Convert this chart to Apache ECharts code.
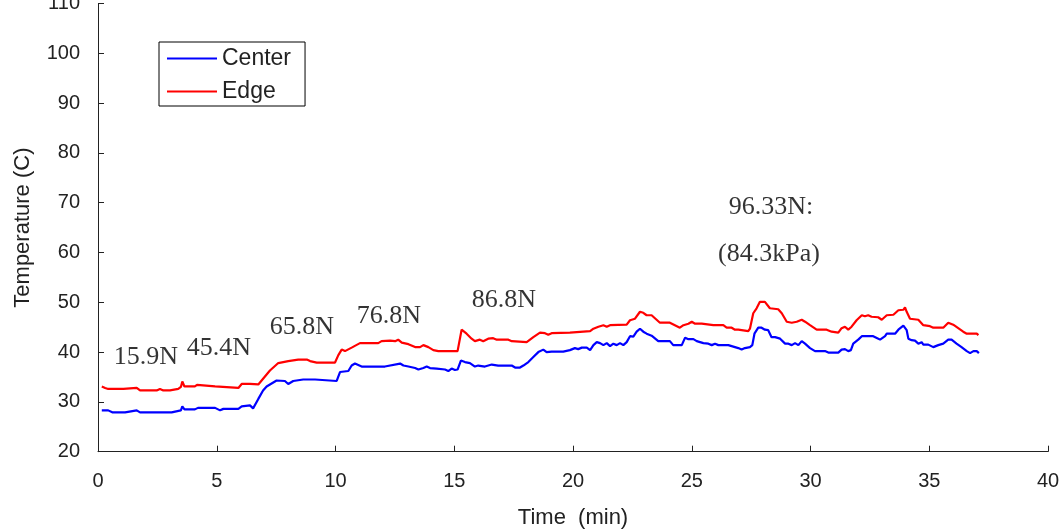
<!DOCTYPE html>
<html>
<head>
<meta charset="utf-8">
<script src="https://cdn.jsdelivr.net/npm/echarts@6/dist/echarts.min.js"></script>
<style>
  html, body { margin: 0; padding: 0; background: #fff; }
  #chart { width: 1062px; height: 531px; }
</style>
</head>
<body>
<div id="chart"></div>
<script>
// Temperature readings, [time (min), temperature (C)]
const centerTemp = [
  [0.16,28.3],[0.43,28.3],[0.6,27.9],[1.14,27.9],[1.2,28.3],[1.63,28.3],[1.77,27.9],[3.1,27.9],
  [3.15,28.3],[3.49,28.3],[3.55,29.1],[3.64,28.5],[4.08,28.5],[4.21,28.8],[4.93,28.8],[5.14,28.3],
  [5.28,28.6],[5.91,28.6],[6.05,29.1],[6.4,29.3],[6.53,28.7],[6.75,30.6],[6.95,32.3],[7.1,33.1],
  [7.52,34.3],[7.87,34.2],[8.01,33.6],[8.22,34.2],[8.64,34.5],[9.14,34.5],[9.21,34.2],[10.05,34.2],
  [10.19,36.0],[10.54,36.2],[10.68,37.3],[10.82,37.7],[11.1,37.1],[12.08,37.1],[12.15,37.5],
  [12.72,37.7],[12.86,37.3],[13.07,37.1],[13.35,36.8],[13.49,36.5],[13.7,36.8],[13.84,37.1],
  [13.98,36.8],[14.26,36.7],[14.61,36.5],[14.75,36.2],[14.89,36.7],[15.03,36.4],[15.14,36.5],
  [15.28,38.3],[15.45,38.0],[15.66,37.8],[15.87,37.1],[16.01,37.3],[16.29,37.1],[16.58,37.5],
  [16.85,37.3],[17.42,37.3],[17.56,36.9],[17.77,36.9],[17.91,37.3],[18.12,38.0],[18.33,39.0],
  [18.54,40.0],[18.75,40.5],[18.89,40.0],[18.96,39.7],[19.1,40.1],[19.59,40.1],[19.66,39.8],
  [19.87,40.4],[20.08,40.8],[20.22,40.6],[20.37,40.9],[20.58,40.9],[20.72,40.4],[20.86,41.4],
  [21.0,42.0],[21.14,41.8],[21.28,41.4],[21.42,41.8],[21.56,41.2],[21.7,41.7],[21.84,41.4],
  [21.98,41.8],[22.12,41.4],[22.26,42.0],[22.4,43.2],[22.54,43.1],[22.68,44.1],[22.82,44.7],
  [22.96,44.1],[23.1,43.7],[23.31,43.3],[23.59,42.2],[24.08,42.2],[24.22,41.4],[24.58,41.4],
  [24.72,42.9],[24.86,42.6],[25.07,42.6],[25.21,42.2],[25.49,41.8],[25.7,41.7],[25.84,41.4],
  [25.98,41.7],[26.12,41.4],[26.54,41.4],[26.61,41.0],[26.96,40.8],[27.1,40.5],[27.24,40.8],
  [27.45,41.0],[27.55,41.4],[27.64,43.7],[27.8,44.9],[27.94,44.9],[28.08,44.5],[28.22,44.4],
  [28.36,43.0],[28.51,43.0],[28.58,43.4],[28.72,42.7],[28.93,41.7],[29.07,41.7],[29.21,41.4],
  [29.35,41.8],[29.49,41.4],[29.63,42.2],[29.77,41.7],[29.98,40.8],[30.19,40.2],[30.61,40.2],
  [30.75,39.9],[31.17,39.9],[31.31,40.5],[31.45,40.6],[31.59,40.2],[31.7,40.4],[31.8,41.7],
  [32.01,42.5],[32.16,43.2],[32.64,43.2],[32.77,42.9],[32.85,42.9],[32.93,42.5],[33.14,43.2],
  [33.21,43.7],[33.56,43.7],[33.7,44.5],[33.91,45.3],[34.05,44.4],[34.12,42.7],[34.26,42.4],
  [34.4,42.3],[34.54,41.7],[34.68,42.0],[34.75,41.5],[34.96,41.5],[35.17,41.0],[35.38,41.4],
  [35.59,41.7],[35.8,42.5],[35.94,42.5],[36.15,41.7],[36.36,41.0],[36.58,40.2],[36.72,39.8],
  [36.86,40.2],[37.0,40.2],[37.09,39.8]
];

const edgeTemp = [
  [0.16,33.1],[0.3,32.8],[0.43,32.6],[1.07,32.6],[1.14,32.8],[1.63,32.8],[1.77,32.3],[2.47,32.3],
  [2.61,32.6],[2.75,32.3],[3.03,32.3],[3.1,32.6],[3.38,32.6],[3.49,33.0],[3.55,34.1],[3.64,33.1],
  [4.08,33.1],[4.17,33.4],[4.25,33.1],[4.93,33.1],[5.0,32.8],[5.91,32.8],[6.05,33.6],[6.4,33.6],
  [6.75,33.5],[6.8,33.2],[6.96,34.7],[7.24,36.3],[7.59,37.8],[8.01,38.2],[8.43,38.5],[8.79,38.5],
  [8.93,38.2],[9.21,37.9],[9.98,37.9],[10.12,39.4],[10.26,40.5],[10.4,40.2],[10.68,40.9],
  [11.03,41.8],[11.8,41.8],[11.94,42.2],[12.3,42.3],[12.51,42.2],[12.64,42.5],[12.79,41.9],
  [13.07,41.6],[13.35,41.0],[13.56,41.0],[13.7,41.4],[13.91,41.0],[14.12,40.4],[14.33,40.2],
  [14.96,40.2],[15.03,40.6],[15.14,40.2],[15.31,44.5],[15.52,43.7],[15.73,42.7],[15.87,42.2],
  [16.08,42.5],[16.22,42.2],[16.43,42.7],[16.64,42.8],[16.79,42.5],[17.28,42.5],[17.42,42.2],
  [18.05,42.0],[18.19,42.5],[18.33,43.0],[18.61,43.9],[18.82,43.8],[18.96,43.5],[19.1,43.8],
  [19.17,43.9],[19.87,43.9],[19.94,44.2],[20.72,44.2],[20.86,44.7],[21.07,45.1],[21.28,45.4],
  [21.42,45.1],[21.56,45.4],[22.26,45.5],[22.4,46.4],[22.61,46.7],[22.82,48.1],[22.96,47.9],
  [23.1,47.4],[23.31,47.4],[23.66,45.9],[24.08,45.9],[24.29,45.4],[24.5,44.9],[24.65,45.4],
  [24.86,45.7],[25.0,46.1],[25.14,45.7],[25.42,45.7],[25.49,45.4],[25.91,45.4],[25.98,45.1],
  [26.05,45.4],[26.33,45.4],[26.47,44.9],[26.68,44.9],[26.82,44.5],[26.96,44.5],[27.03,44.2],
  [27.38,44.2],[27.45,44.7],[27.59,47.8],[27.73,48.8],[27.87,50.1],[28.08,50.1],[28.29,48.8],
  [28.64,48.6],[28.79,47.8],[29.0,46.1],[29.21,45.9],[29.28,45.7],[29.42,46.1],[29.63,46.5],
  [29.77,46.1],[29.98,45.4],[30.26,44.5],[30.68,44.5],[30.89,44.1],[31.17,43.9],[31.31,44.8],
  [31.45,45.1],[31.59,44.5],[31.73,45.1],[31.94,46.4],[32.16,47.4],[32.29,47.2],[32.37,47.0],
  [32.43,47.4],[32.57,47.1],[32.85,47.0],[33.0,46.5],[33.21,47.4],[33.49,47.5],[33.56,47.7],
  [33.7,48.4],[33.91,48.5],[33.98,49.0],[34.05,48.1],[34.19,46.7],[34.54,46.5],[34.75,45.4],
  [35.03,45.2],[35.17,44.9],[35.59,44.9],[35.8,45.9],[36.01,45.5],[36.22,44.8],[36.43,44.1],
  [36.58,43.7],[37.0,43.7],[37.07,43.4]
];

// Load annotations placed along the run
const noteText = ['15.9N', '45.4N', '65.8N', '76.8N', '86.8N', '96.33N:', '(84.3kPa)'];
const noteTime = [2.02, 5.09, 8.59, 12.25, 17.09, 28.34, 28.25];
const noteTemp = [38.9, 40.8, 45.0, 47.2, 50.4, 69.2, 59.7];

const sans = 'Liberation Sans, Arial, sans-serif';
const tickFont = { fontFamily: sans, fontSize: 20, color: '#222' };
const nameFont = { fontFamily: sans, fontSize: 22, color: '#222' };
// thin horizontal bar used as the legend key
const lineKey = 'path://M0,0H50V2H0Z';

const chart = echarts.init(document.getElementById('chart'), null, { renderer: 'canvas' });
chart.setOption({
  animation: false,
  backgroundColor: '#fff',
  grid: { left: 98, right: 14, top: 3.5, bottom: 79.3, outerBoundsMode: 'none' },
  legend: {
    data: [{ name: 'Center', icon: lineKey }, { name: 'Edge', icon: lineKey }],
    orient: 'vertical',
    left: 159, top: 42,
    padding: [5, 14, 3, 8],
    itemWidth: 50, itemHeight: 23, itemGap: 10,
    symbolKeepAspect: true,
    borderColor: '#000', borderWidth: 1, backgroundColor: '#fff', borderRadius: 0,
    textStyle: { fontFamily: sans, fontSize: 23, lineHeight: 23, color: '#222' }
  },
  xAxis: {
    type: 'value', min: 0, max: 40, interval: 5,
    name: 'Time  (min)', nameLocation: 'middle', nameGap: 55,
    nameTextStyle: nameFont,
    axisLine: { show: true, lineStyle: { color: '#222', width: 1 } },
    axisTick: { show: true, inside: true, length: 6, lineStyle: { color: '#222' } },
    axisLabel: Object.assign({ margin: 20 }, tickFont),
    splitLine: { show: false }
  },
  yAxis: {
    type: 'value', min: 20, max: 110, interval: 10,
    name: 'Temperature (C)', nameLocation: 'middle', nameGap: 64,
    nameTextStyle: nameFont,
    axisLine: { show: true, lineStyle: { color: '#222', width: 1 } },
    axisTick: { show: true, inside: true, length: 6, lineStyle: { color: '#222' } },
    axisLabel: Object.assign({ margin: 18 }, tickFont),
    splitLine: { show: false }
  },
  series: [
    {
      name: 'Center', type: 'line', data: centerTemp,
      symbol: 'none', lineStyle: { color: '#0000ff', width: 2.2 }, itemStyle: { color: '#0000ff' }
    },
    {
      name: 'Edge', type: 'line', data: edgeTemp,
      symbol: 'none', lineStyle: { color: '#ff0000', width: 2.2 }, itemStyle: { color: '#ff0000' }
    },
    {
      name: 'notes', type: 'scatter', symbolSize: 0, silent: true,
      data: noteText.map((t, i) => ({ value: [noteTime[i], noteTemp[i]], name: t })),
      label: {
        show: true, position: 'inside', formatter: p => p.name,
        fontFamily: 'Liberation Serif, Times New Roman, serif', fontSize: 26, color: '#000'
      }
    }
  ]
});
</script>
</body>
</html>
